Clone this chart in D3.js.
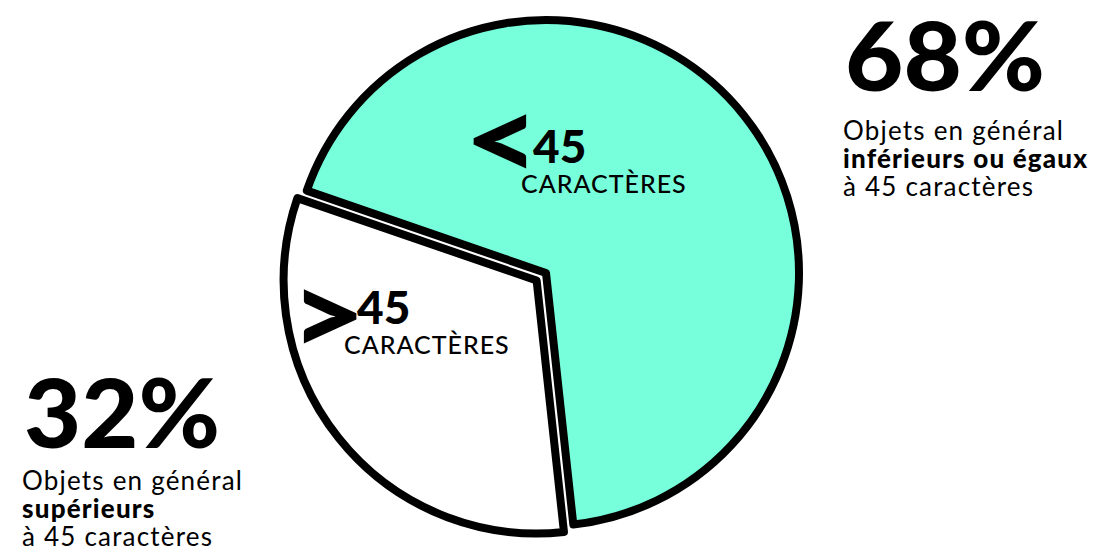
<!DOCTYPE html>
<html>
<head>
<meta charset="utf-8">
<script src="https://cdn.jsdelivr.net/npm/d3@7"></script>
<style>
  html, body { margin: 0; padding: 0; background: #ffffff; }
  svg { display: block; }
  text { font-family: Lato, "Noto Sans", sans-serif; fill: #000; }
</style>
</head>
<body>
<svg id="chart" width="1097" height="550"></svg>
<script>
// ---- data ----
const categories = ["≤ 45 caractères", "> 45 caractères"];
const values = [68, 32];
const sliceColors = ["#77ffdb", "#ffffff"];
const percentLabels = ["68%", "32%"];
const sliceSymbols = ["<", ">"];
const sliceNumbers = ["45", "45"];
const sliceUnits = ["CARACTÈRES", "CARACTÈRES"];
const descLine1 = ["Objets en général", "Objets en général"];
const descLine2 = ["inférieurs ou égaux", "supérieurs"];
const descLine3 = ["à 45 caractères", "à 45 caractères"];

// ---- layout ----
const svg = d3.select("#chart");
const cx = 546, cy = 273, R = 253;
const deg = Math.PI / 180;

const pie = d3.pie().sort(null).value(d => d)
  .startAngle(-71 * deg).endAngle(289 * deg);
const arcs = pie(values);
const arc = d3.arc().innerRadius(0).outerRadius(R);

const explode = [0, 12];

const g = svg.append("g").attr("transform", `translate(${cx},${cy})`);
g.selectAll("path.slice")
  .data(arcs)
  .join("path")
  .attr("class", "slice")
  .attr("d", arc)
  .attr("fill", (d, i) => sliceColors[i])
  .attr("stroke", "#000")
  .attr("stroke-width", 8)
  .attr("stroke-linejoin", "round")
  .attr("transform", (d, i) => {
    const a = (d.startAngle + d.endAngle) / 2;
    return `translate(${explode[i] * Math.sin(a)},${-explode[i] * Math.cos(a)})`;
  });

// slice labels
const sliceLabelPos = [
  { sym: [464, 180], num: [533, 163], unit: [521, 193] },
  { sym: [290, 355], num: [357, 324], unit: [344, 354] }
];
sliceLabelPos.forEach((p, i) => {
  svg.append("text").attr("x", p.sym[0]).attr("y", p.sym[1])
    .attr("font-size", 115).attr("font-weight", 900)
    .attr("textLength", 76).attr("lengthAdjust", "spacingAndGlyphs")
    .text(sliceSymbols[i]);
  svg.append("text").attr("x", p.num[0]).attr("y", p.num[1])
    .attr("font-size", 46).attr("font-weight", 900)
    .text(sliceNumbers[i]);
  svg.append("text").attr("x", p.unit[0]).attr("y", p.unit[1])
    .attr("font-size", 25).attr("font-weight", 500)
    .attr("letter-spacing", 1)
    .text(sliceUnits[i]);
});

// side annotations
const notePos = [
  { x: 843, pct: 91, pctW: 200, l1: 140, lh: 28 },
  { x: 22, pct: 448, pctW: 196, l1: 490, lh: 28 }
];
notePos.forEach((p, i) => {
  svg.append("text").attr("x", p.x + 2).attr("y", p.pct)
    .attr("font-size", 95).attr("font-weight", 900)
    .attr("textLength", p.pctW).attr("lengthAdjust", "spacingAndGlyphs")
    .text(percentLabels[i]);
  svg.append("text").attr("x", p.x).attr("y", p.l1)
    .attr("font-size", 26).attr("font-weight", 400)
    .attr("letter-spacing", 1.2)
    .text(descLine1[i]);
  svg.append("text").attr("x", p.x).attr("y", p.l1 + p.lh)
    .attr("font-size", 26).attr("font-weight", 900)
    .attr("letter-spacing", 1.2)
    .text(descLine2[i]);
  svg.append("text").attr("x", p.x).attr("y", p.l1 + 2 * p.lh)
    .attr("font-size", 26).attr("font-weight", 400)
    .attr("letter-spacing", 1.2)
    .text(descLine3[i]);
});
</script>
</body>
</html>
